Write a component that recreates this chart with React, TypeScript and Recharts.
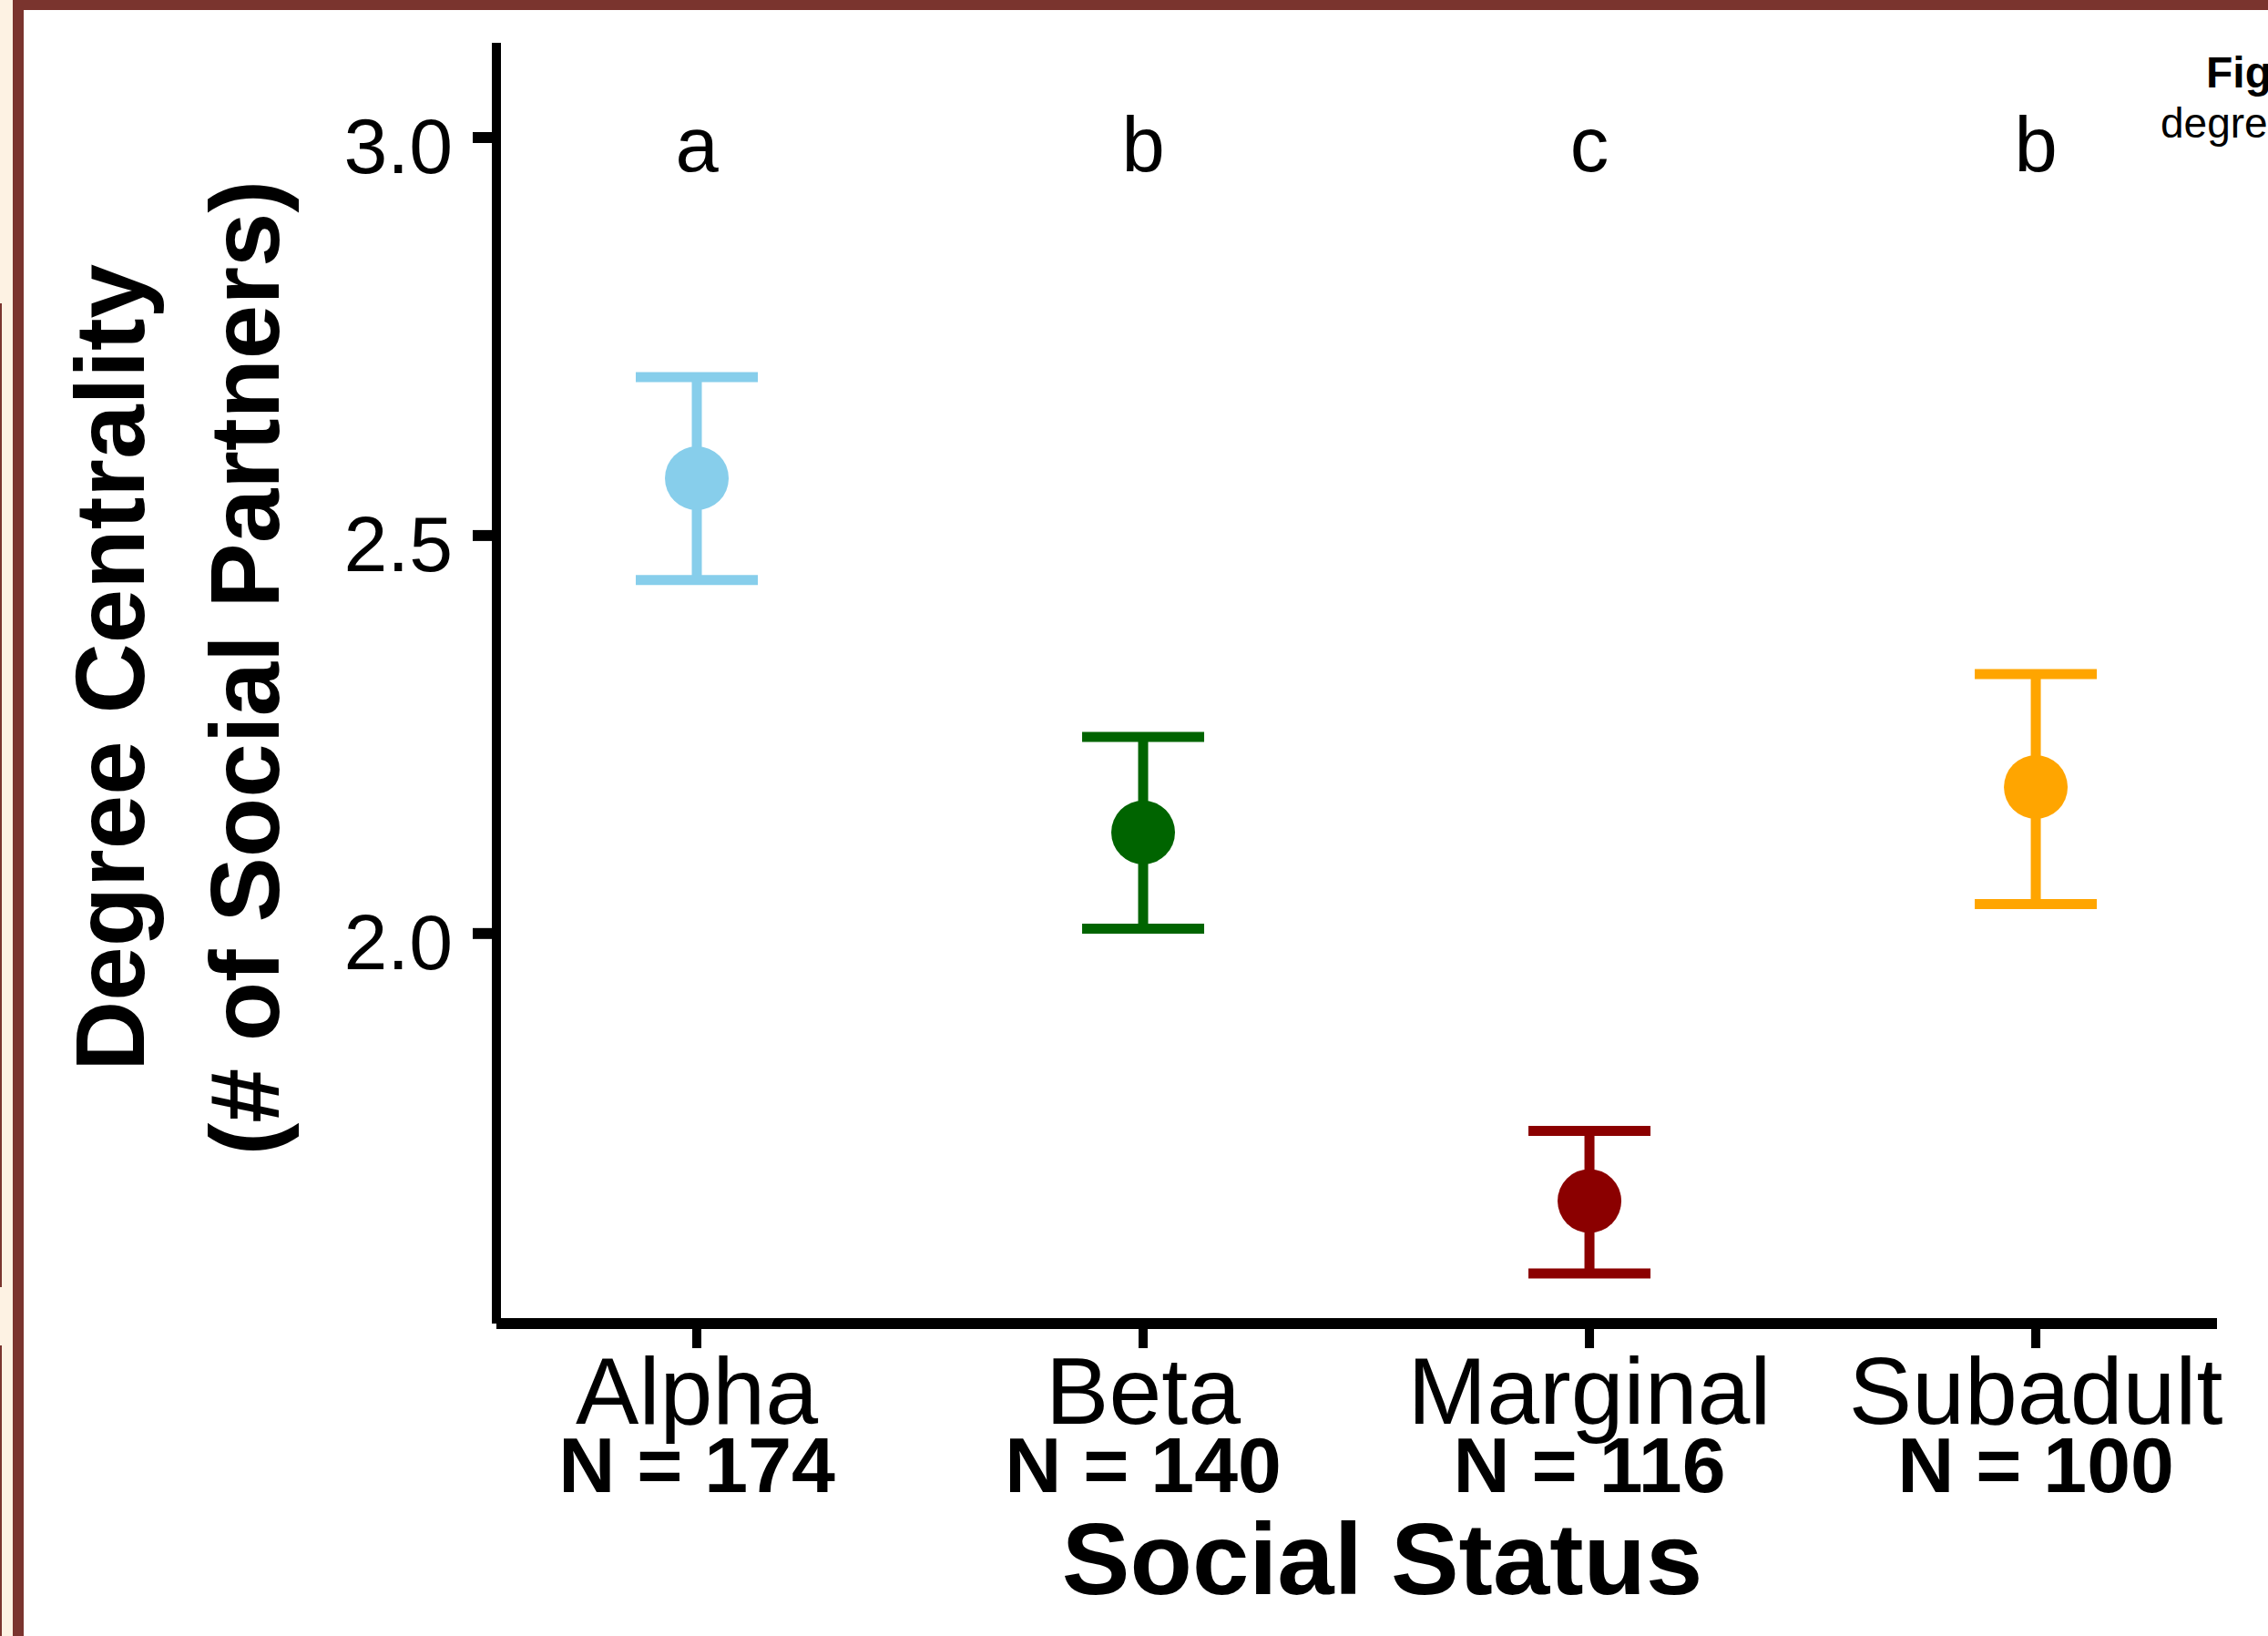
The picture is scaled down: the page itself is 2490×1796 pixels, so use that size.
import { ScatterChart, Scatter, XAxis, YAxis, ErrorBar } from 'recharts';

const statuses = ['Alpha', 'Beta', 'Marginal', 'Subadult'];
const sampleSizes = [174, 140, 116, 100];
const means = [2.572, 2.127, 1.664, 2.184];
const lowerCI = [2.444, 2.006, 1.573, 2.037];
const upperCI = [2.699, 2.247, 1.752, 2.326];
const groupLetters = ['a', 'b', 'c', 'b'];
const letterLevel = 3.0;
const statusColors = ['#87CEEB', '#006400', '#8B0000', '#FFA500'];
const yTicks = [2.0, 2.5, 3.0];

const FONT = '"Liberation Sans", Arial, Helvetica, sans-serif';
const BROWN = '#7A342E';
const CREAM = '#FDF2E3';

const positions = statuses.map((_, i) => i + 1);

const seriesData = statuses.map((s, i) => [
  {
    status: s,
    pos: i + 1,
    y: means[i],
    err: [means[i] - lowerCI[i], upperCI[i] - means[i]],
  },
]);

const letterData = statuses.map((s, i) => ({ status: s, pos: i + 1, y: letterLevel, letter: groupLetters[i] }));

const StatusTick = (props: any) => {
  const { x, y, payload } = props;
  const i = Math.round(payload.value) - 1;
  return (
    <g>
      <text x={x} y={y + 83} textAnchor="middle" fontSize={104} fontFamily={FONT} fill="#000">
        {statuses[i]}
      </text>
      <text x={x} y={y + 158} textAnchor="middle" fontSize={86} fontWeight="bold" fontFamily={FONT} fill="#000">
        {`N = ${sampleSizes[i]}`}
      </text>
    </g>
  );
};

const ValueTick = (props: any) => {
  const { x, y, payload } = props;
  return (
    <text x={x} y={y + 39} textAnchor="end" fontSize={86} fontFamily={FONT} fill="#000">
      {Number(payload.value).toFixed(1)}
    </text>
  );
};

const YTitle = (props: any) => {
  const { viewBox } = props;
  const cy = viewBox.y + viewBox.height / 2 - 17;
  return (
    <g fontFamily={FONT} fontWeight="bold" fontSize={107} fill="#000">
      <text x={158} y={cy} textAnchor="middle" transform={`rotate(-90, 158, ${cy})`}>
        Degree Centrality
      </text>
      <text x={306} y={cy} textAnchor="middle" transform={`rotate(-90, 306, ${cy})`}>
        (# of Social Partners)
      </text>
    </g>
  );
};

const XTitle = (props: any) => {
  const { viewBox } = props;
  const cx = viewBox.x + viewBox.width / 2 + 28;
  return (
    <text x={cx} y={1750} textAnchor="middle" fontFamily={FONT} fontWeight="bold" fontSize={112} fill="#000">
      Social Status
    </text>
  );
};

export default function App() {
  return (
    <div style={{ position: 'absolute', left: 0, top: 0, width: 2490, height: 1796, background: '#fff', overflow: 'hidden' }}>
      <ScatterChart width={2490} height={1796} margin={{ top: 47, right: 56, bottom: 0, left: 0 }}>
        <XAxis
          type="number"
          dataKey="pos"
          domain={[0.551, 4.406]}
          allowDataOverflow
          ticks={positions}
          height={343}
          tickSize={27}
          tickMargin={0}
          tick={<StatusTick />}
          tickLine={{ stroke: '#000', strokeWidth: 10 }}
          axisLine={{ stroke: '#000', strokeWidth: 12 }}
          label={{ content: <XTitle /> }}
        />
        <YAxis
          type="number"
          dataKey="y"
          domain={[1.51, 3.119]}
          allowDataOverflow
          ticks={yTicks}
          width={545}
          tickSize={26}
          tickMargin={22}
          tick={<ValueTick />}
          tickLine={{ stroke: '#000', strokeWidth: 12 }}
          axisLine={{ stroke: '#000', strokeWidth: 10 }}
          label={{ content: <YTitle /> }}
        />
        {seriesData.map((d, i) => (
          <Scatter
            key={statuses[i]}
            name={statuses[i]}
            data={d}
            isAnimationActive={false}
            shape={(p: any) => <circle cx={p.cx} cy={p.cy} r={35} fill={statusColors[i]} />}
          >
            <ErrorBar
              dataKey="err"
              direction="y"
              width={67}
              strokeWidth={11}
              stroke={statusColors[i]}
              isAnimationActive={false}
            />
          </Scatter>
        ))}
        <Scatter
          name="letters"
          data={letterData}
          isAnimationActive={false}
          shape={(p: any) => (
            <text x={p.cx} y={p.cy + 37} textAnchor="middle" fontSize={85} fontFamily={FONT} fill="#000">
              {p.payload.letter}
            </text>
          )}
        />
      </ScatterChart>

      <div style={{ position: 'absolute', left: 2422, top: 56, fontFamily: FONT, fontWeight: 'bold', fontSize: 48, whiteSpace: 'nowrap', lineHeight: 1 }}>
        Figure
      </div>
      <div style={{ position: 'absolute', left: 2372, top: 112, fontFamily: FONT, fontSize: 46, whiteSpace: 'nowrap', lineHeight: 1 }}>
        degree
      </div>

      <div style={{ position: 'absolute', left: 0, top: 0, width: 14, height: 1796, background: CREAM }} />
      <div style={{ position: 'absolute', left: 0, top: 333, width: 2, height: 1080, background: BROWN }} />
      <div style={{ position: 'absolute', left: 0, top: 1477, width: 2, height: 319, background: BROWN }} />
      <div style={{ position: 'absolute', left: 14, top: 0, width: 12, height: 1796, background: BROWN }} />
      <div style={{ position: 'absolute', left: 14, top: 0, width: 2476, height: 11, background: BROWN }} />
    </div>
  );
}
